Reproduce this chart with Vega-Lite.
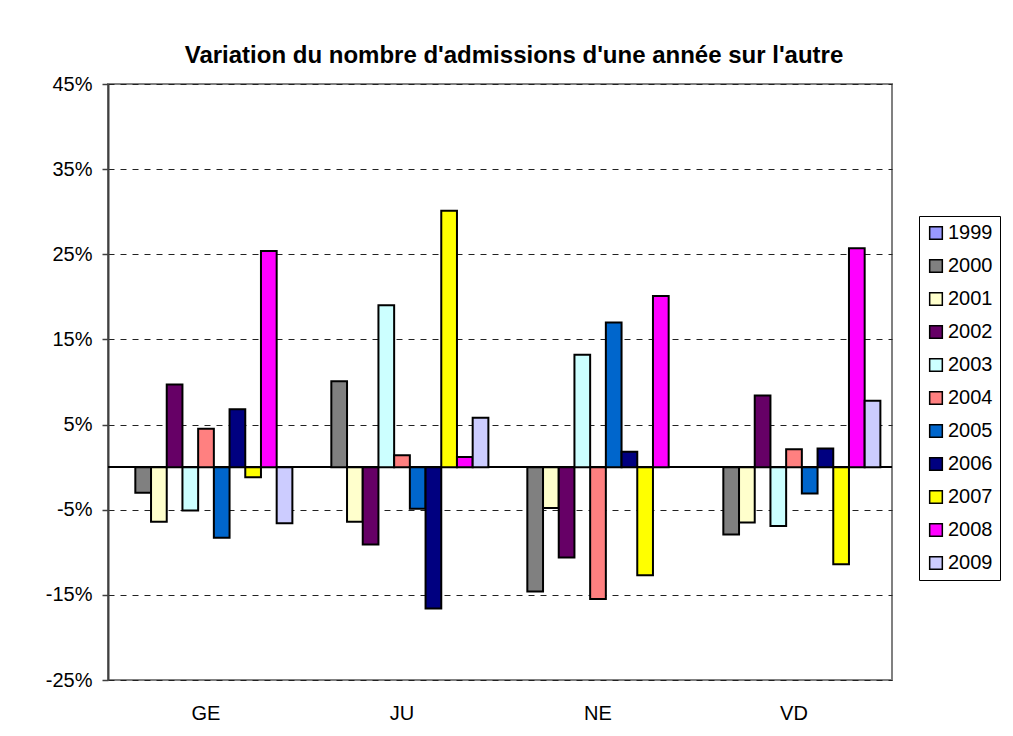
{
  "$schema": "https://vega.github.io/schema/vega-lite/v6.json",
  "width": 784,
  "height": 596,
  "autosize": {"type": "none"},
  "padding": {"left": 108, "top": 84, "right": 121, "bottom": 56},
  "background": "white",
  "title": {
    "text": "Variation du nombre d'admissions d'une année sur l'autre",
    "font": "Liberation Sans",
    "fontSize": 24,
    "fontWeight": "bold",
    "color": "black",
    "anchor": "middle",
    "baseline": "alphabetic",
    "dx": 14,
    "dy": 35,
    "offset": 22
  },
  "config": {
    "view": {"stroke": "#808080", "strokeWidth": 2},
    "font": "Liberation Sans",
    "axis": {"labelFont": "Liberation Sans"},
    "legend": {"labelFont": "Liberation Sans"}
  },
  "data": {
    "values": [
      {"region": "GE", "year": "2000", "value": -3.0},
      {"region": "GE", "year": "2001", "value": -6.4},
      {"region": "GE", "year": "2002", "value": 9.7},
      {"region": "GE", "year": "2003", "value": -5.1},
      {"region": "GE", "year": "2004", "value": 4.5},
      {"region": "GE", "year": "2005", "value": -8.3},
      {"region": "GE", "year": "2006", "value": 6.8},
      {"region": "GE", "year": "2007", "value": -1.2},
      {"region": "GE", "year": "2008", "value": 25.4},
      {"region": "GE", "year": "2009", "value": -6.6},
      {"region": "JU", "year": "2000", "value": 10.1},
      {"region": "JU", "year": "2001", "value": -6.4},
      {"region": "JU", "year": "2002", "value": -9.1},
      {"region": "JU", "year": "2003", "value": 19.0},
      {"region": "JU", "year": "2004", "value": 1.4},
      {"region": "JU", "year": "2005", "value": -4.9},
      {"region": "JU", "year": "2006", "value": -16.6},
      {"region": "JU", "year": "2007", "value": 30.1},
      {"region": "JU", "year": "2008", "value": 1.2},
      {"region": "JU", "year": "2009", "value": 5.8},
      {"region": "NE", "year": "2000", "value": -14.6},
      {"region": "NE", "year": "2001", "value": -4.8},
      {"region": "NE", "year": "2002", "value": -10.6},
      {"region": "NE", "year": "2003", "value": 13.2},
      {"region": "NE", "year": "2004", "value": -15.5},
      {"region": "NE", "year": "2005", "value": 17.0},
      {"region": "NE", "year": "2006", "value": 1.8},
      {"region": "NE", "year": "2007", "value": -12.7},
      {"region": "NE", "year": "2008", "value": 20.1},
      {"region": "VD", "year": "2000", "value": -7.9},
      {"region": "VD", "year": "2001", "value": -6.5},
      {"region": "VD", "year": "2002", "value": 8.4},
      {"region": "VD", "year": "2003", "value": -6.9},
      {"region": "VD", "year": "2004", "value": 2.1},
      {"region": "VD", "year": "2005", "value": -3.1},
      {"region": "VD", "year": "2006", "value": 2.2},
      {"region": "VD", "year": "2007", "value": -11.4},
      {"region": "VD", "year": "2008", "value": 25.7},
      {"region": "VD", "year": "2009", "value": 7.8}
    ]
  },
  "layer": [
    {
      "mark": {"type": "rule", "color": "black", "strokeWidth": 1},
      "encoding": {"y": {"datum": 0, "type": "quantitative"}}
    },
    {
      "mark": {"type": "bar", "stroke": "black", "strokeWidth": 2},
      "encoding": {
        "x": {
          "field": "region",
          "type": "nominal",
          "sort": ["GE", "JU", "NE", "VD"],
          "scale": {"paddingInner": 0, "paddingOuter": 0},
          "axis": {
            "title": null,
            "labelAngle": 0,
            "labelFont": "Liberation Sans",
            "labelFontSize": 20,
            "labelColor": "black",
            "labelPadding": 23,
            "ticks": false,
            "domain": false,
            "grid": false
          }
        },
        "xOffset": {
          "field": "year",
          "type": "nominal",
          "scale": {
            "domain": ["1999", "2000", "2001", "2002", "2003", "2004", "2005", "2006", "2007", "2008", "2009"],
            "paddingInner": 0,
            "paddingOuter": 0.74
          }
        },
        "y": {
          "field": "value",
          "type": "quantitative",
          "scale": {"domain": [-25, 45], "nice": false, "zero": false},
          "axis": {
            "title": null,
            "values": [-25, -15, -5, 5, 15, 25, 35, 45],
            "labelExpr": "datum.value + '%'",
            "labelFont": "Liberation Sans",
            "labelFontSize": 20,
            "labelColor": "black",
            "labelPadding": 10,
            "tickSize": 6,
            "tickColor": "#404040",
            "tickWidth": 1.5,
            "domainColor": "#404040",
            "domainWidth": 2,
            "grid": true,
            "gridColor": "#222222",
            "gridDash": [6, 6],
            "gridWidth": 1
          }
        },
        "color": {
          "field": "year",
          "type": "nominal",
          "scale": {
            "domain": ["1999", "2000", "2001", "2002", "2003", "2004", "2005", "2006", "2007", "2008", "2009"],
            "range": ["#9999FF", "#808080", "#FFFFCC", "#660066", "#CCFFFF", "#FF8080", "#0066CC", "#000080", "#FFFF00", "#FF00FF", "#CCCCFF"]
          },
          "legend": {
            "title": null,
            "orient": "none",
            "legendX": 811,
            "legendY": 132,
            "symbolType": "square",
            "symbolSize": 160,
            "symbolStrokeColor": "black",
            "symbolStrokeWidth": 1.5,
            "symbolOpacity": 1,
            "labelFont": "Liberation Sans",
            "labelFontSize": 20,
            "labelColor": "black",
            "labelOffset": 2,
            "rowPadding": 13,
            "padding": 7,
            "strokeColor": "black",
            "fillColor": "white",
            "labelLimit": 100
          }
        }
      }
    }
  ]
}
